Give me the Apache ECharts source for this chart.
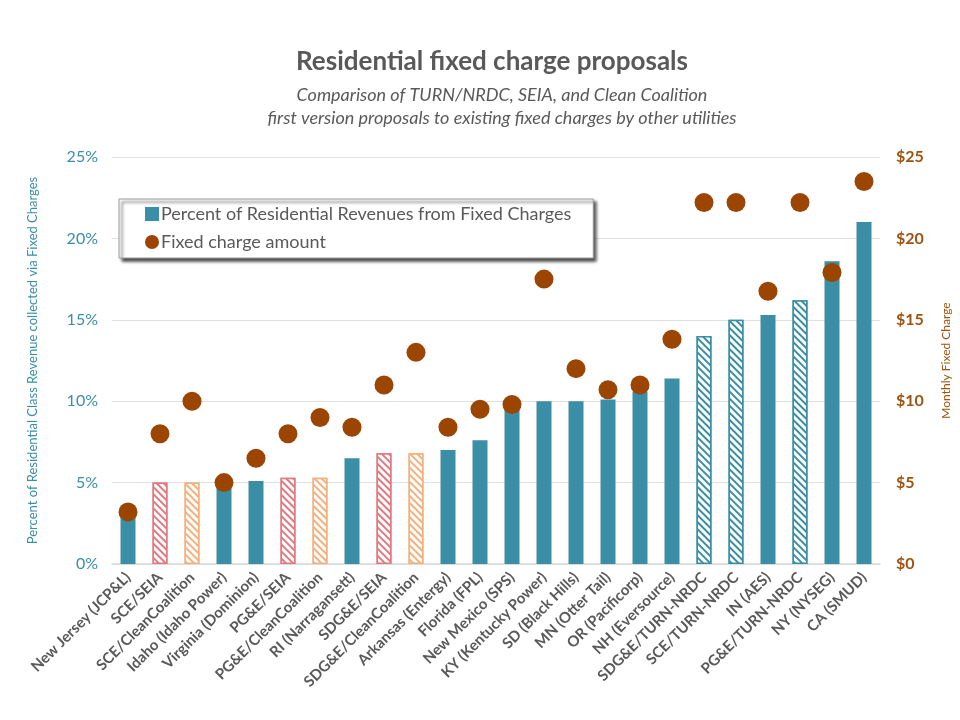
<!DOCTYPE html>
<html>
<head>
<meta charset="utf-8">
<script src="https://cdn.jsdelivr.net/npm/echarts@6/dist/echarts.min.js"></script>
<style>html,body{margin:0;padding:0;background:#fff;}#c{width:960px;height:720px;}</style>
</head>
<body>
<div id="c"></div>
<script>
const categories = ["New Jersey (JCP&L)","SCE/SEIA","SCE/CleanCoalition","Idaho (Idaho Power)","Virginia (Dominion)","PG&E/SEIA","PG&E/CleanCoalition","RI (Narragansett)","SDG&E/SEIA","SDG&E/CleanCoalition","Arkansas (Entergy)","Florida (FPL)","New Mexico (SPS)","KY (Kentucky Power)","SD (Black Hills)","MN (Otter Tail)","OR (Pacificorp)","NH (Eversource)","SDG&E/TURN-NRDC","SCE/TURN-NRDC","IN (AES)","PG&E/TURN-NRDC","NY (NYSEG)","CA (SMUD)"];
const percentFixed = [3.0,5.0,5.0,4.9,5.1,5.3,5.3,6.5,6.8,6.8,7.0,7.6,9.6,10.0,10.0,10.1,10.6,11.4,14.0,15.0,15.3,16.2,18.6,21.0];
const fixedCharge = [3.2,8.0,10.0,5.0,6.5,8.0,9.0,8.4,11.0,13.0,8.4,9.5,9.8,17.5,12.0,10.7,11.0,13.8,22.2,22.2,16.75,22.2,17.9,23.5];
const barKind = ["std","seia","cc","std","std","seia","cc","std","seia","cc","std","std","std","std","std","std","std","std","turn","turn","std","turn","std","std"];
const leftTicks = [0,5,10,15,20,25];
const rightTicks = [0,5,10,15,20,25];

const TEAL = '#3A8EA5';
const kindColor = {std: TEAL, seia: '#E07A80', cc: '#F4B07D', turn: TEAL};
const FONT = 'Lato, "Open Sans", sans-serif';

const barData = percentFixed.map((v, i) => {
  const k = barKind[i];
  if (k === 'std') return {value: v, itemStyle: {color: TEAL}};
  return {
    value: v,
    itemStyle: {
      color: '#ffffff',
      borderColor: kindColor[k],
      borderWidth: 1.5,
      decal: {
        symbol: 'rect',
        color: kindColor[k],
        backgroundColor: '#ffffff',
        dashArrayX: [1, 0],
        dashArrayY: [1.6, 2.2],
        rotation: Math.PI / 4
      }
    }
  };
});

const chart = echarts.init(document.getElementById('c'), null, {renderer: 'canvas'});
chart.setOption({
  backgroundColor: '#ffffff',
  animation: false,
  title: [
    {text: 'Residential fixed charge proposals', left: 487, textAlign: 'center', top: 44,
     textStyle: {fontFamily: FONT, fontSize: 26, fontWeight: 'bold', color: '#595959'}},
    {text: 'Comparison of TURN/NRDC, SEIA, and Clean Coalition\nfirst version proposals to existing fixed charges by other utilities',
     left: 497, textAlign: 'center', top: 79,
     textStyle: {fontFamily: FONT, fontSize: 18, fontStyle: 'italic', fontWeight: 'normal', color: '#595959', lineHeight: 23}}
  ],
  legend: {
    orient: 'vertical', left: 119, top: 199,
    padding: [5, 22, 6, 26], itemGap: 8,
    itemWidth: 14, itemHeight: 14,
    backgroundColor: '#ffffff', borderColor: '#9a9a9a', borderWidth: 1,
    shadowColor: 'rgba(0,0,0,0.75)', shadowBlur: 3, shadowOffsetX: 3, shadowOffsetY: 3,
    textStyle: {fontFamily: FONT, fontSize: 18, color: '#595959', lineHeight: 20, padding: [0,0,0,-3]},
    data: [
      {name: 'Percent of Residential Revenues from Fixed Charges', icon: 'rect'},
      {name: 'Fixed charge amount', icon: 'circle'}
    ]
  },
  grid: {left: 112, right: 78, top: 157, bottom: 156},
  xAxis: {
    type: 'category', data: categories,
    axisLine: {lineStyle: {color: '#d9d9d9', width: 1.5}},
    axisTick: {show: false},
    axisLabel: {interval: 0, rotate: 45, margin: 11, fontFamily: FONT, fontSize: 15, fontWeight: 'bold', color: '#595959'}
  },
  yAxis: [
    {type: 'value', min: leftTicks[0], max: leftTicks[leftTicks.length-1], interval: 5, position: 'left',
     name: 'Percent of Residential Class Revenue collected via Fixed Charges',
     nameLocation: 'middle', nameRotate: 90, nameGap: 73,
     nameTextStyle: {fontFamily: FONT, fontSize: 13, color: TEAL},
     axisLine: {show: false}, axisTick: {show: false},
     splitLine: {lineStyle: {color: '#e0e0e0', width: 1}},
     axisLabel: {formatter: '{value}%', margin: 14, fontFamily: FONT, fontSize: 16, color: TEAL}},
    {type: 'value', min: rightTicks[0], max: rightTicks[rightTicks.length-1], interval: 5, position: 'right',
     name: 'Monthly Fixed Charge',
     nameLocation: 'middle', nameRotate: 90, nameGap: 60,
     nameTextStyle: {fontFamily: FONT, fontSize: 12, color: '#A0520F'},
     axisLine: {show: false}, axisTick: {show: false}, splitLine: {show: false},
     axisLabel: {formatter: '${value}', margin: 16, fontFamily: FONT, fontSize: 16, fontWeight: 'bold', color: '#A0520F'}}
  ],
  series: [
    {name: 'Percent of Residential Revenues from Fixed Charges', type: 'bar', yAxisIndex: 0,
     barWidth: 15, itemStyle: {color: TEAL}, data: barData, z: 2},
    {name: 'Fixed charge amount', type: 'scatter', yAxisIndex: 1, symbol: 'circle', symbolSize: 19,
     itemStyle: {color: '#9B4500', opacity: 1}, data: fixedCharge, z: 3}
  ]
});
</script>
</body>
</html>
